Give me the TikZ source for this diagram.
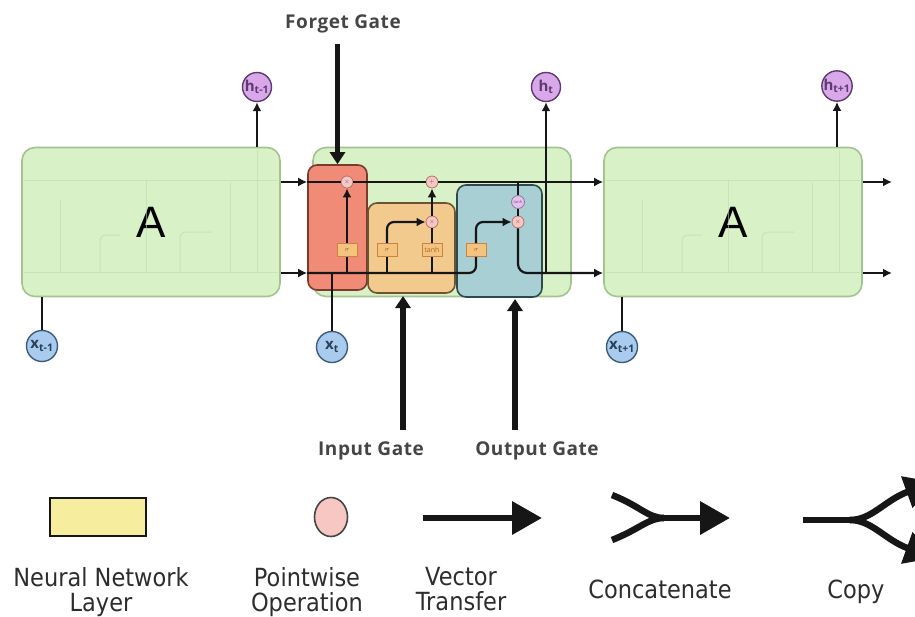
\documentclass[tikz,border=0pt]{standalone}
\usepackage{fontspec}
\setsansfont{Open Sans}
\newfontfamily\legendfont{DejaVu Sans}[FakeStretch=0.9]
\newfontfamily\bigAfont{Liberation Sans}
\usetikzlibrary{arrows.meta,positioning,shapes.geometric}
\definecolor{cellfill}{HTML}{D8F1C6}
\definecolor{cellline}{HTML}{A3C48F}
\definecolor{fgfill}{HTML}{EF8B76}
\definecolor{fgline}{HTML}{7B3A2C}
\definecolor{igfill}{HTML}{F3CA8E}
\definecolor{igline}{HTML}{6B5431}
\definecolor{ogfill}{HTML}{A8CFD3}
\definecolor{ogline}{HTML}{2F4A4D}
\definecolor{sigfill}{HTML}{F4C47E}
\definecolor{sigline}{HTML}{C9853F}
\definecolor{pwfill}{HTML}{F6C7C3}
\definecolor{pwline}{HTML}{B27373}
\definecolor{hfill}{HTML}{D9A8E8}
\definecolor{hline}{HTML}{5E3A70}
\definecolor{xfill}{HTML}{A9CCEE}
\definecolor{xline}{HTML}{3B5B7C}
\definecolor{legyellow}{HTML}{F6EE9E}
\definecolor{ink}{HTML}{161616}
\tikzset{>=Latex,
  cell/.style={draw=cellline,fill=cellfill,rounded corners=13pt,line width=1.6pt,minimum width=258pt,minimum height=149pt,inner sep=0pt,font=\bigAfont\fontsize{44}{44}\selectfont},
  gatebox/.style={rounded corners=9pt,line width=1.6pt,inner sep=0pt},
  layer/.style={draw=sigline,fill=sigfill,line width=.8pt,minimum height=13pt,minimum width=20pt,inner sep=1pt,text=sigline!80!black,font=\sffamily\fontsize{7}{7}\selectfont},
  pw/.style={circle,draw=pwline,fill=pwfill,minimum size=12pt,inner sep=0pt,line width=.8pt,text=pwline!70!black,font=\fontsize{6}{6}\selectfont},
  hnode/.style={circle,draw=hline,fill=hfill,line width=1.4pt,minimum size=29pt,inner sep=0pt,text=hline,font=\sffamily\bfseries\fontsize{15}{15}\selectfont},
  xnode/.style={circle,draw=xline,fill=xfill,line width=1.4pt,minimum size=31pt,inner sep=0pt,text=xline!70!black,font=\sffamily\bfseries\fontsize{15}{15}\selectfont},
  wire/.style={line width=2.2pt,ink},
  flow/.style={wire,-{Latex[length=9pt,width=9pt]}},
  gatearr/.style={line width=5.5pt,ink,-{Triangle[length=12pt,width=15pt]}},
  bigarr/.style={line width=6.5pt,ink,-{Triangle[length=30pt,width=32pt]}},
  ghost/.style={draw=cellline!70,line width=1pt,opacity=.55},
  gatelabel/.style={font=\sffamily\bfseries\fontsize{19}{19}\selectfont\addfontfeature{LetterSpace=3},text=ink!80},
  legtext/.style={font=\legendfont\fontsize{25}{25}\selectfont,text=ink!90,align=center,anchor=north}
}
\begin{document}
\begin{tikzpicture}[x=1pt,y=-1pt]
\useasboundingbox (0,0) rectangle (915,616);
% the three cells
\node[cell] (cA) at (151,222) {A};
\node[cell] (cM) at (442,222) {};
\node[cell] (cB) at (733,222) {A};
% faint insides of the folded cells
\foreach \o in {0,582}{
  \begin{scope}[xshift=\o pt]
  \draw[ghost] (24,180) -- (278,180) (24,272) -- (278,272);
  \draw[ghost] (60,272) -- (60,200) (146,180) -- (146,272);
  \draw[ghost,rounded corners=6pt] (100,272) -- (100,235) -- (120,235);
  \draw[ghost,rounded corners=6pt] (180,272) -- (180,232) -- (212,232);
  \draw[ghost,rounded corners=6pt] (230,182) -- (230,272) (257,150) -- (257,272);
  \end{scope}}
% the three gates
\node[gatebox,draw=fgline,fill=fgfill,minimum width=59pt,minimum height=125pt] (fg) at (337.5,227.5) {};
\node[gatebox,draw=igline,fill=igfill,minimum width=87pt,minimum height=90pt] (ig) at (411.5,248) {};
\node[gatebox,draw=ogline,fill=ogfill,minimum width=85pt,minimum height=112pt] (og) at (499.5,241) {};
\coordinate (top) at (0,182);
\coordinate (bot) at (0,273);
% layers and pointwise operations
\node[layer] (sf) at (347,250) {$\sigma$};
\node[layer] (si) at (387,250) {$\sigma$};
\node[layer] (tc) at (432,250) {tanh};
\node[layer] (so) at (476,250) {$\sigma$};
\node[pw] (mf) at (347,182) {$\times$};
\node[pw] (add) at (432,182) {$+$};
\node[pw] (mi) at (432,222) {$\times$};
\node[pw] (mo) at (518,222) {$\times$};
\node[pw,draw=hline!70,fill=hfill!70,minimum size=13pt,font=\sffamily\fontsize{4}{4}\selectfont] (th) at (518,202) {tanh};
% inputs and outputs
\node[hnode] (h0) at (257,87) {h\textsubscript{t-1}};
\node[hnode] (h1) at (546,87) {h\textsubscript{t}};
\node[hnode] (h2) at (837,86) {h\textsubscript{t+1}};
\node[xnode] (x0) at (42,346) {x\textsubscript{t-1}};
\node[xnode] (x1) at (332,347) {x\textsubscript{t}};
\node[xnode] (x2) at (622,347) {x\textsubscript{t+1}};
\coordinate (endT) at (892,182);
\coordinate (endB) at (892,273);
% cell state and hidden state
\draw[flow] (cA.east |- top) -- (fg.west |- top);
\draw[wire] (fg.west |- top) -- (mf) (mf) -- (add);
\draw[flow] (add) -- (cB.west |- top);
\draw[flow] (cA.east |- bot) -- (fg.west |- bot);
\draw[wire,rounded corners=7pt] (fg.west |- bot) -- (so.south |- bot) -- (so.south);
\draw[wire] (sf.south |- bot) -- (sf) (si.south |- bot) -- (si) (tc.south |- bot) -- (tc);
\draw[wire] (x1) -- (x1 |- bot);
\draw[flow] (sf) -- (mf);
\draw[flow,rounded corners=7pt] (si.north) |- (mi);
\draw[wire] (tc) -- (mi);
\draw[flow] (mi) -- (add);
\draw[flow,rounded corners=7pt] (so.north) |- (mo);
\draw[wire] (mo |- top) -- (th) (th) -- (mo);
\draw[flow,rounded corners=9pt] (mo) |- (cB.west |- bot);
\draw[flow] (h1 |- bot) -- (h1);
\draw[flow] (h0 |- cA.north) -- (h0);
\draw[flow] (h2 |- cB.north) -- (h2);
\draw[wire] (x0) -- (x0 |- cA.south);
\draw[wire] (x2) -- (x2 |- cB.south);
\draw[flow] (cB.east |- top) -- (endT);
\draw[flow] (cB.east |- bot) -- (endB);
% gate labels
\node[gatelabel] (flab) at (343,24) {Forget Gate};
\node[gatelabel] (ilab) at (371,451) {Input Gate};
\node[gatelabel] (olab) at (537,451) {Output Gate};
\coordinate (ipt) at (403,296);
\coordinate (opt) at (515,299);
\draw[gatearr] (fg.north |- 0,44) -- (fg.north);
\draw[gatearr] (ipt |- 0,430) -- (ipt);
\draw[gatearr] (opt |- 0,430) -- (opt);
% legend
\node[draw=ink,fill=legyellow,line width=2pt,minimum width=96pt,minimum height=38pt] (nnl) at (98,517) {};
\node[ellipse,draw=ink!80,fill=pwfill,line width=1.6pt,minimum width=33pt,minimum height=39pt] (pwo) at (331,517) {};
\coordinate (va) at (423,518);
\coordinate (vb) at (542,518);
\draw[bigarr] (va) -- (vb);
\coordinate (ca1) at (612,495);
\coordinate (ca2) at (612,540);
\coordinate (cm) at (664,518);
\coordinate (cb) at (730,518);
\draw[line width=6.5pt,ink] (ca1) .. controls (640,506) and (648,518) .. (cm);
\draw[line width=6.5pt,ink] (ca2) .. controls (640,529) and (648,518) .. (cm);
\draw[bigarr] (cm) -- (cb);
\coordinate (cp0) at (803,520);
\coordinate (cp1) at (850,520);
\coordinate (cp2) at (935,482);
\coordinate (cp3) at (935,558);
\draw[line width=6.5pt,ink] (cp0) -- (cp1);
\draw[bigarr] (cp1) .. controls (872,520) and (885,500) .. (cp2);
\draw[bigarr] (cp1) .. controls (872,520) and (885,540) .. (cp3);
\node[legtext] (t1) at (101,564) {Neural Network\\Layer};
\node[legtext] (t2) at (307,564) {Pointwise\\Operation};
\node[legtext] (t3) at (461,564) {Vector\\Transfer};
\node[legtext] (t4) at (660,576) {Concatenate};
\node[legtext] (t5) at (856,576) {Copy};
\end{tikzpicture}
\end{document}
